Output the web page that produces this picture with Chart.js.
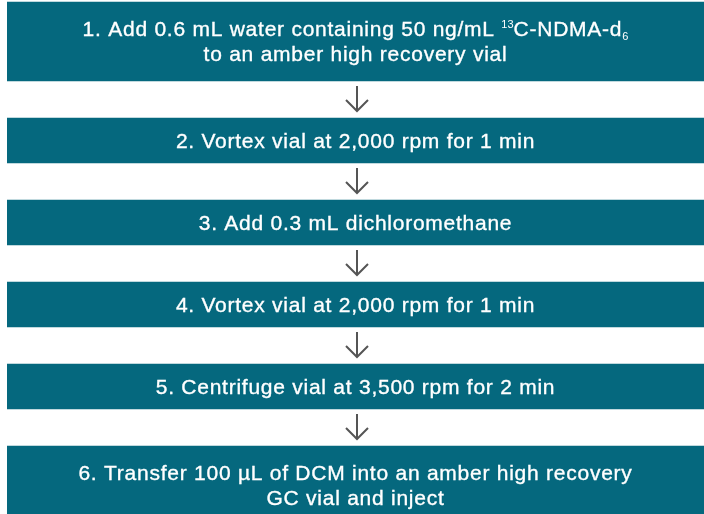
<!DOCTYPE html>
<html>
<head>
<meta charset="utf-8">
<script src="https://cdn.jsdelivr.net/npm/chart.js@4/dist/chart.umd.min.js"></script>
<style>
  html, body { margin: 0; padding: 0; background: #fff; }
  #wrap { width: 704px; height: 514px; }
</style>
</head>
<body>
<div id="wrap"><canvas id="flowChart" width="704" height="514"></canvas></div>
<script>
// Steps of the procedure; ^{..} is superscript, _{..} is subscript
var stepLines = [
  ['1. Add 0.6 mL water containing 50 ng/mL ^{13}C-NDMA-d_{6}', 'to an amber high recovery vial'],
  ['2. Vortex vial at 2,000 rpm for 1 min'],
  ['3. Add 0.3 mL dichloromethane'],
  ['4. Vortex vial at 2,000 rpm for 1 min'],
  ['5. Centrifuge vial at 3,500 rpm for 2 min'],
  ['6. Transfer 100 \u00b5L of DCM into an amber high recovery', 'GC vial and inject']
];
var stepNames = ['Step 1', 'Step 2', 'Step 3', 'Step 4', 'Step 5', 'Step 6'];

// layout (axis units = pixels of the chart area)
var firstTop = 2, gap = 37, lineStep = 34, boxPad = 11;
var boxColor = '#05687e';
var fontFamily = '"Liberation Sans", Arial, sans-serif';
var fontSize = 21;
var spacing = '0.75px';

// build floating ranges from the number of lines in each step
var ranges = [];
var boxTop = firstTop;
stepLines.forEach(function (lines) {
  var h = lines.length * lineStep + boxPad;
  ranges.push([boxTop, boxTop + h]);
  boxTop += h + gap;
});

var datasets = ranges.map(function (r, i) {
  return {
    label: stepNames[i],
    data: [r],
    backgroundColor: boxColor,
    borderWidth: 0,
    barPercentage: 1,
    categoryPercentage: 1,
    grouped: false
  };
});

// split "text ^{sup} _{sub}" into runs
function parseRuns(str) {
  var runs = [];
  var re = /([\^_])\{([^}]*)\}/g;
  var last = 0, m;
  while ((m = re.exec(str)) !== null) {
    if (m.index > last) runs.push({ t: str.slice(last, m.index), k: 'n' });
    runs.push({ t: m[2], k: m[1] === '^' ? 'sup' : 'sub' });
    last = re.lastIndex;
  }
  if (last < str.length) runs.push({ t: str.slice(last), k: 'n' });
  return runs;
}

var stepText = {
  id: 'stepText',
  afterDatasetsDraw: function (chart) {
    var ctx = chart.ctx;
    ctx.save();
    ctx.textBaseline = 'middle';
    ctx.textAlign = 'left';
    var metas = chart.data.datasets.map(function (d, i) { return chart.getDatasetMeta(i).data[0]; });

    metas.forEach(function (bar, i) {
      var lines = stepLines[i];
      var props = bar.getProps(['x', 'y', 'base', 'width'], true);
      var y0 = Math.min(props.y, props.base), y1 = Math.max(props.y, props.base);
      var cx = props.x;
      var cy = (y0 + y1) / 2 + 1.5;
      var lh = 25;
      lines.forEach(function (line, li) {
        var ly = cy + (li - (lines.length - 1) / 2) * lh;
        var runs = parseRuns(line);
        var total = 0;
        runs.forEach(function (r) {
          ctx.font = (r.k === 'n' ? fontSize : 11) + 'px ' + fontFamily;
          ctx.letterSpacing = r.k === 'n' ? spacing : '0px';
          r.w = ctx.measureText(r.t).width;
          total += r.w;
        });
        var x = cx - total / 2;
        ctx.fillStyle = '#ffffff';
        ctx.strokeStyle = '#ffffff';
        ctx.lineWidth = 0.35;
        runs.forEach(function (r) {
          ctx.font = (r.k === 'n' ? fontSize : 11) + 'px ' + fontFamily;
          ctx.letterSpacing = r.k === 'n' ? spacing : '0px';
          var dy = r.k === 'sup' ? -6 : (r.k === 'sub' ? 6 : 0);
          ctx.fillText(r.t, x, ly + dy);
          if (r.k === 'n') ctx.strokeText(r.t, x, ly + dy);
          x += r.w;
        });
      });

      // arrow down to the next box
      if (i < metas.length - 1) {
        var next = metas[i + 1].getProps(['y', 'base'], true);
        var ny0 = Math.min(next.y, next.base);
        var ax = 357;
        var a0 = y1 + 5, a1 = ny0 - 7;
        ctx.strokeStyle = '#555555';
        ctx.lineWidth = 2;
        ctx.beginPath();
        ctx.moveTo(ax, a0);
        ctx.lineTo(ax, a1);
        ctx.moveTo(ax - 11, a1 - 11);
        ctx.lineTo(ax, a1);
        ctx.lineTo(ax + 11, a1 - 11);
        ctx.stroke();
      }
    });
    ctx.restore();
  }
};

function displayFlow() {
  var ctx = document.getElementById('flowChart').getContext('2d');
  new Chart(ctx, {
    type: 'bar',
    data: {
      labels: ['procedure'],
      datasets: datasets
    },
    options: {
      responsive: false,
      animation: false,
      devicePixelRatio: 1,
      layout: { padding: { left: 7, right: 0, top: 0, bottom: 0 } },
      plugins: {
        legend: { display: false },
        tooltip: { enabled: false }
      },
      scales: {
        x: { display: false, offset: true },
        y: { display: false, reverse: true, min: 0, max: 514 }
      }
    },
    plugins: [stepText]
  });
}

displayFlow();
</script>
</body>
</html>
